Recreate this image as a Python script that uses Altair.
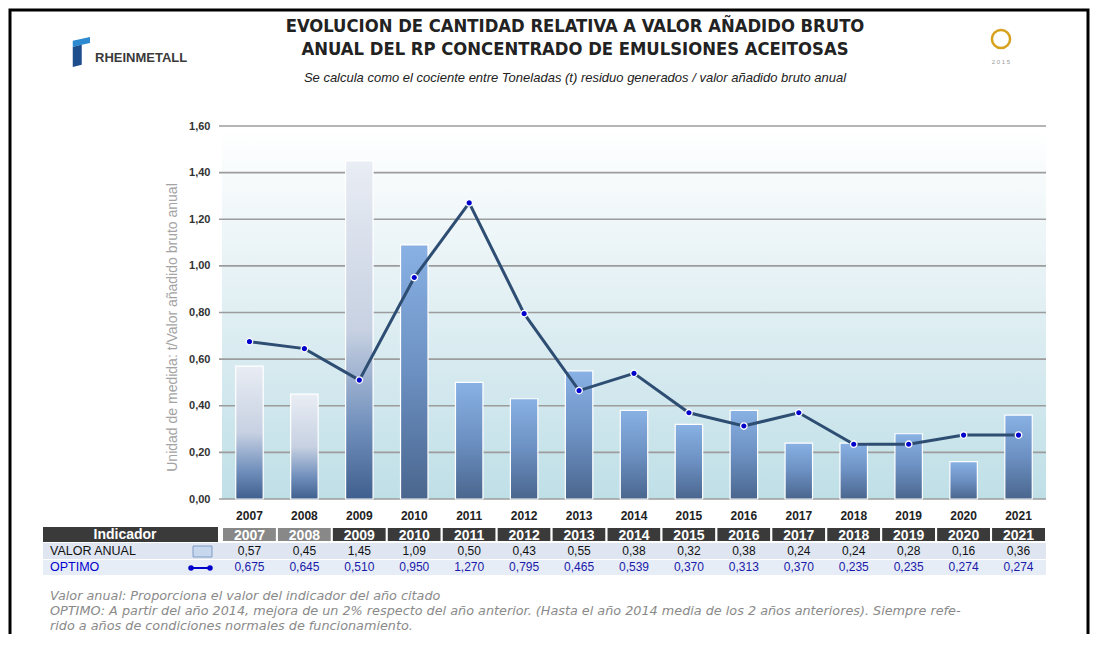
import altair as alt
import pandas as pd

# ---------------- data ----------------
years = ["2007", "2008", "2009", "2010", "2011", "2012", "2013", "2014",
         "2015", "2016", "2017", "2018", "2019", "2020", "2021"]
valor_anual = [0.57, 0.45, 1.45, 1.09, 0.50, 0.43, 0.55, 0.38,
               0.32, 0.38, 0.24, 0.24, 0.28, 0.16, 0.36]
optimo = [0.675, 0.645, 0.510, 0.950, 1.270, 0.795, 0.465, 0.539,
          0.370, 0.313, 0.370, 0.235, 0.235, 0.274, 0.274]
pale_bar_years = ["2007", "2008", "2009"]
grey_header_years = ["2007", "2008"]
y_ticks = [0.0, 0.2, 0.4, 0.6, 0.8, 1.0, 1.2, 1.4, 1.6]

title_lines = ["EVOLUCION DE CANTIDAD RELATIVA A VALOR AÑADIDO BRUTO",
               "ANUAL DEL RP CONCENTRADO DE EMULSIONES ACEITOSAS"]
subtitle = "Se calcula como el cociente entre Toneladas (t) residuo generados / valor añadido bruto anual"
y_title = "Unidad de medida: t/Valor añadido bruto anual"
notes = ["Valor anual: Proporciona el valor del indicador del año citado",
         "OPTIMO: A partir del año 2014, mejora de un 2% respecto del año anterior. (Hasta el año 2014 media de los 2 años anteriores). Siempre refe-",
         "rido a años de condiciones normales de funcionamiento."]

df = pd.DataFrame({"year": years, "valor": valor_anual, "optimo": optimo})
df["pale"] = df["year"].isin(pale_bar_years)
df["greyhead"] = df["year"].isin(grey_header_years)
tick_df = pd.DataFrame({"tick": y_ticks})
one = pd.DataFrame({"k": [0]})

W, H = 824, 373
PAD = {"left": 214, "top": 118, "right": 44, "bottom": 135}
TITLE_FONT = "DejaVu Sans Condensed, Liberation Sans"

xs = alt.Scale(domain=years, paddingInner=0, paddingOuter=0)
ys = alt.Scale(domain=[0, 1.6], nice=False, zero=True)
x_axis = alt.Axis(title=None, domain=False, ticks=False, labelAngle=0,
                  labelFontWeight="bold", labelFontSize=12, labelColor="#222222",
                  labelPadding=11)
X = alt.X("year:O", scale=xs, axis=x_axis, title=None)

base = alt.Chart(df)

# ---------------- plot background ----------------
bg = alt.Chart(one).mark_rect(
    color=alt.Gradient(gradient="linear", x1=0, y1=0, x2=0, y2=1,
                       stops=[alt.GradientStop(offset=0, color="#ffffff"),
                              alt.GradientStop(offset=0.45, color="#e3f0f4"),
                              alt.GradientStop(offset=1, color="#bfdfe7")])
).encode(x=alt.value(0), x2=alt.value(W), y=alt.value(2), y2=alt.value(H))

grid = alt.Chart(tick_df).mark_rule(color="#9c9c9c", strokeWidth=1.6).encode(
    y=alt.Y("tick:Q", scale=ys, axis=alt.Axis(
        values=y_ticks, grid=False, domain=False, ticks=False,
        labelExpr="replace(format(datum.value, '.2f'), '.', ',')",
        labelFontWeight="bold", labelFontSize=11, labelColor="#333333",
        labelPadding=12, title=y_title, titleColor="#a3a3a3",
        titleFontSize=14, titleFontWeight="normal", titlePadding=9,
        titleY=201)),
    x=alt.value(-3), x2=alt.value(W))

grad_pale = alt.Gradient(gradient="linear", x1=0, y1=0, x2=0, y2=1,
                         stops=[alt.GradientStop(offset=0, color="#e9edf4"),
                                alt.GradientStop(offset=0.5, color="#c7d1e2"),
                                alt.GradientStop(offset=0.78, color="#7391bd"),
                                alt.GradientStop(offset=1, color="#3f5f8e")])
grad_blue = alt.Gradient(gradient="linear", x1=0, y1=0, x2=0, y2=1,
                         stops=[alt.GradientStop(offset=0, color="#89b1e4"),
                                alt.GradientStop(offset=0.5, color="#6c90c2"),
                                alt.GradientStop(offset=1, color="#4a668e")])

bars_pale = base.transform_filter("datum.pale").mark_bar(
    color=grad_pale, stroke="#ffffff", strokeWidth=1.2,
    width=alt.RelativeBandSize(0.5)).encode(
    x=X, y=alt.Y("valor:Q", scale=ys))

bars_blue = base.transform_filter("!datum.pale").mark_bar(
    color=grad_blue, stroke="#ffffff", strokeWidth=1.2,
    width=alt.RelativeBandSize(0.5)).encode(
    x=X, y=alt.Y("valor:Q", scale=ys))

line = base.mark_line(color="#2e4d72", strokeWidth=3).encode(
    x=X, y=alt.Y("optimo:Q", scale=ys))
pts = base.mark_point(filled=True, shape="circle", size=42, color="#0000cc",
                      stroke="#ffffff", strokeWidth=1.3, opacity=1).encode(
    x=X, y=alt.Y("optimo:Q", scale=ys))

# ---------------- table ----------------
T_LEFT = -179
row_h = [(401, 416), (417, 433), (433, 449)]

row1_bg = alt.Chart(one).mark_rect(color="#dfe6f1").encode(
    x=alt.value(T_LEFT), x2=alt.value(W), y=alt.value(row_h[1][0]), y2=alt.value(row_h[1][1]))
row2_bg = alt.Chart(one).mark_rect(color="#e7edf6").encode(
    x=alt.value(T_LEFT), x2=alt.value(W), y=alt.value(row_h[2][0] + 1), y2=alt.value(row_h[2][1]))
head_left = alt.Chart(one).mark_rect(color="#3a3a3a").encode(
    x=alt.value(T_LEFT), x2=alt.value(-4), y=alt.value(row_h[0][0]), y2=alt.value(row_h[0][1]))
head_left_txt = alt.Chart(one).mark_text(
    text="Indicador", color="#ffffff", fontWeight="bold", fontSize=14,
    baseline="middle", align="center").encode(x=alt.value(-97), y=alt.value(409))

head_cells = base.mark_rect(stroke="#ffffff", strokeWidth=2).encode(
    x=X, y=alt.value(row_h[0][0]), y2=alt.value(row_h[0][1]),
    color=alt.condition("datum.greyhead", alt.value("#888888"), alt.value("#3a3a3a")))
head_txt = base.mark_text(color="#ffffff", fontWeight="bold", fontSize=14,
                          baseline="middle").encode(
    x=X, y=alt.value(409.5), text="year:N")

val_txt = base.transform_calculate(
    t="replace(format(datum.valor, '.2f'), '.', ',')").mark_text(
    color="#111111", fontSize=12, baseline="middle").encode(
    x=X, y=alt.value(425), text="t:N")
opt_txt = base.transform_calculate(
    t="replace(format(datum.optimo, '.3f'), '.', ',')").mark_text(
    color="#1a1aaa", fontSize=12, baseline="middle").encode(
    x=X, y=alt.value(441), text="t:N")

lab1 = alt.Chart(one).mark_text(text="VALOR ANUAL", color="#111111", fontSize=12.5,
                                align="left", baseline="middle").encode(
    x=alt.value(-172), y=alt.value(425))
lab2 = alt.Chart(one).mark_text(text="OPTIMO", color="#0000cc", fontSize=12.5,
                                align="left", baseline="middle").encode(
    x=alt.value(-172), y=alt.value(441))
sym1 = alt.Chart(one).mark_rect(color="#c7d7ee", stroke="#7f9cc4", strokeWidth=1).encode(
    x=alt.value(-29), x2=alt.value(-10), y=alt.value(420), y2=alt.value(431))
sym2 = alt.Chart(one).mark_rule(color="#0000cc", strokeWidth=2).encode(
    x=alt.value(-31), x2=alt.value(-12), y=alt.value(442))
sym2a = alt.Chart(one).mark_point(filled=True, size=30, color="#0000cc", opacity=1).encode(
    x=alt.value(-31), y=alt.value(442))
sym2b = alt.Chart(one).mark_point(filled=True, size=30, color="#0000cc", opacity=1).encode(
    x=alt.value(-12), y=alt.value(442))

# ---------------- titles, notes, logos, frame ----------------
t1 = alt.Chart(one).mark_text(text=title_lines[0], fontSize=18.3, fontWeight="bold",
                              color="#222222", font=TITLE_FONT,
                              align="center", baseline="middle").encode(
    x=alt.value(353), y=alt.value(-99))
t2 = alt.Chart(one).mark_text(text=title_lines[1], fontSize=18.3, fontWeight="bold",
                              color="#222222", font=TITLE_FONT,
                              align="center", baseline="middle").encode(
    x=alt.value(353), y=alt.value(-76))
st = alt.Chart(one).mark_text(text=subtitle, fontSize=13, fontStyle="italic",
                              color="#222222", font="Liberation Sans",
                              align="center", baseline="middle").encode(
    x=alt.value(353), y=alt.value(-48))

note_layers = []
for txt, yy in zip(notes, [470, 485, 500]):
    note_layers.append(alt.Chart(one).mark_text(
        text=txt, fontSize=12.8, fontStyle="italic", color="#8a8a8a",
        font="DejaVu Sans", align="left", baseline="middle").encode(
        x=alt.value(-172), y=alt.value(yy)))

logo_dark = alt.Chart(one).mark_point(
    shape="M-0.55,-0.35 L0.05,-0.5 L0.05,0.85 L-0.55,1 Z", size=900,
    filled=True, color="#1f4e8c", opacity=1).encode(x=alt.value(-141), y=alt.value(-74))
logo_light = alt.Chart(one).mark_point(
    shape="M-0.55,-0.75 L0.6,-1 L0.6,-0.6 L-0.55,-0.35 Z", size=900,
    filled=True, color="#2d8ad0", opacity=1).encode(x=alt.value(-141), y=alt.value(-74))
logo_txt = alt.Chart(one).mark_text(text="RHEINMETALL", fontSize=13, fontWeight="bold",
                                    color="#3a3a3a", align="left", baseline="middle").encode(
    x=alt.value(-127), y=alt.value(-68))
ring = alt.Chart(one).mark_point(shape="circle", size=330, filled=False, color="#d6a21e",
                                 strokeWidth=2.5, opacity=1).encode(
    x=alt.value(779), y=alt.value(-87))
ring_txt = alt.Chart(one).mark_text(text="2  0  1  5", fontSize=6, color="#9a9a9a",
                                    align="center", baseline="middle").encode(
    x=alt.value(779), y=alt.value(-64))

frame = alt.Chart(one).mark_rect(fill=None, stroke="#000000", strokeWidth=3).encode(
    x=alt.value(-212), x2=alt.value(866), y=alt.value(-116), y2=alt.value(540))

chart = alt.layer(
    bg, grid, bars_pale, bars_blue, line, pts,
    row1_bg, row2_bg, head_left, head_left_txt, head_cells, head_txt,
    val_txt, opt_txt, lab1, lab2, sym1, sym2, sym2a, sym2b,
    t1, t2, st, *note_layers, logo_dark, logo_light, logo_txt, ring, ring_txt, frame
).properties(
    width=W, height=H, padding=PAD, autosize=alt.AutoSizeParams(type="none")
).configure(font="Liberation Sans", background="#ffffff").configure_view(stroke=None)

chart.save("out.html", embed_options={"renderer": "svg", "actions": False})
